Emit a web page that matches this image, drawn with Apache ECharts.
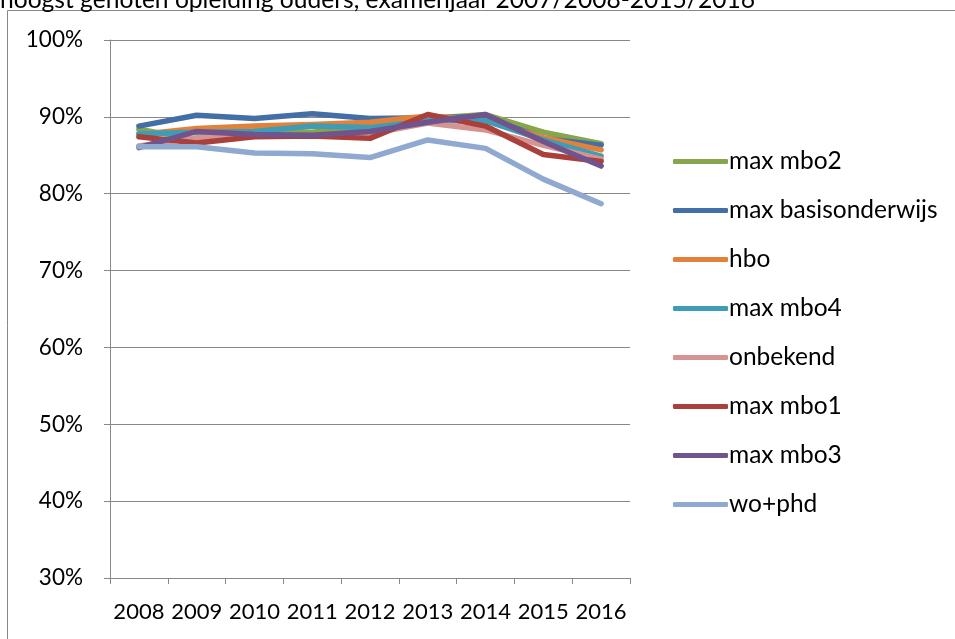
<!DOCTYPE html>
<html><head><meta charset="utf-8">
<script src="https://cdn.jsdelivr.net/npm/echarts@6/dist/echarts.min.js"></script>
<style>html,body{margin:0;padding:0;background:#fff}#c{width:955px;height:639px}</style>
</head><body><div id="c"></div>
<script>
const categories = ['2008','2009','2010','2011','2012','2013','2014','2015','2016'];
const seriesNames = ['max mbo2','max basisonderwijs','hbo','max mbo4','onbekend','max mbo1','max mbo3','wo+phd'];
const maxMbo2 = [88.4, 87.0, 88.2, 88.0, 88.8, 89.8, 90.3, 88.0, 86.5];
const maxBasis = [88.8, 90.2, 89.8, 90.4, 89.8, 89.9, 90.0, 87.2, 86.3];
const hbo = [87.7, 88.5, 88.8, 89.0, 89.3, 90.1, 89.5, 87.3, 85.7];
const maxMbo4 = [87.8, 88.0, 88.1, 88.8, 88.6, 89.5, 89.5, 87.0, 84.9];
const onbekend = [86.2, 87.3, 87.5, 87.5, 87.8, 89.2, 88.3, 86.3, 84.5];
const maxMbo1 = [87.4, 86.6, 87.4, 87.5, 87.2, 90.3, 88.8, 85.1, 84.2];
const maxMbo3 = [86.0, 88.1, 87.7, 87.6, 88.1, 89.3, 90.3, 86.8, 83.6];
const woPhd = [86.1, 86.1, 85.3, 85.2, 84.7, 87.0, 85.9, 81.9, 78.7];
const yTicks = [30, 40, 50, 60, 70, 80, 90, 100];
const colors = ['#87A64B','#416FA6','#E2823A','#3F9CB5','#D59491','#A9403C','#71548E','#8FA9D0'];
const data = [maxMbo2, maxBasis, hbo, maxMbo4, onbekend, maxMbo1, maxMbo3, woPhd];
const font = 'Lato, "Open Sans", sans-serif';

const chart = echarts.init(document.getElementById('c'));
chart.setOption({
  animation: false,
  graphic: [
    {type:'rect', shape:{x:7.5,y:10.5,width:960,height:640}, style:{fill:'none', stroke:'#888', lineWidth:1}, z:-1},
    {type:'text', left:0, top:-12, style:{text:'hoogst genoten opleiding ouders, examenjaar 2007/2008-2015/2016', font:'24.6px ' + font, fill:'#000'}}
  ],
  grid: {left:110, top:40, width:520, height:538, containLabel:false},
  legend: {
    orient:'vertical', left:668, top:144, itemWidth:55, itemHeight:5, itemGap:24,
    icon:'roundRect',
    textStyle:{fontSize:24.5, fontFamily:font, color:'#000', padding:[0,0,0,-4]},
    data: seriesNames
  },
  xAxis: {
    type:'category', data:categories, boundaryGap:true,
    axisLine:{lineStyle:{color:'#888', width:1}},
    axisTick:{show:true, length:6, lineStyle:{color:'#888'}},
    axisLabel:{interval:0, hideOverlap:false, fontSize:22, fontFamily:font, color:'#000', margin:23}
  },
  yAxis: {
    type:'value', min:30, max:100, interval:10,
    axisLine:{show:true, lineStyle:{color:'#888', width:1}},
    axisTick:{show:true, length:6, lineStyle:{color:'#888'}},
    splitLine:{lineStyle:{color:'#888', width:1}},
    axisLabel:{fontSize:22.5, fontFamily:font, color:'#000', margin:27, formatter: v => v + '%'}
  },
  series: seriesNames.map((n,i) => ({
    name:n, type:'line', data:data[i], symbol:'none',
    color: colors[i],
    lineStyle:{width:5.5, color:colors[i], cap:'round', join:'round'}
  }))
});
</script></body></html>
